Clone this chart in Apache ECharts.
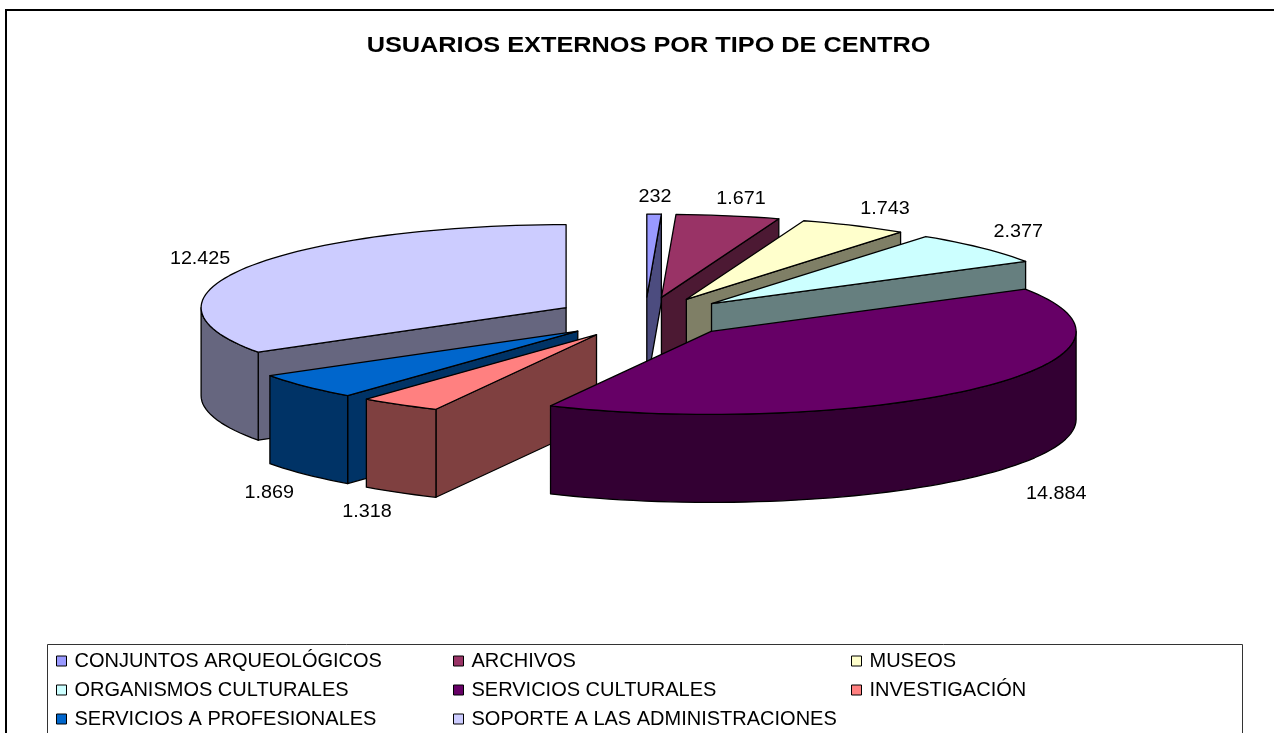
<!DOCTYPE html>
<html>
<head>
<meta charset="utf-8">
<style>
  html, body { margin: 0; padding: 0; background: #fff; overflow: hidden; }
  #chart { width: 1274px; height: 733px; }
</style>
<script src="https://cdn.jsdelivr.net/npm/echarts@6/dist/echarts.min.js"></script>
</head>
<body>
<div id="chart"></div>
<script>
// data, in pie order (clockwise from 12 o'clock)
const categories = ['CONJUNTOS ARQUEOLÓGICOS', 'ARCHIVOS', 'MUSEOS', 'ORGANISMOS CULTURALES', 'SERVICIOS CULTURALES', 'INVESTIGACIÓN', 'SERVICIOS A PROFESIONALES', 'SOPORTE A LAS ADMINISTRACIONES']
const values = [232, 1671, 1743, 2377, 14884, 1318, 1869, 12425]
const valueLabels = ['232', '1.671', '1.743', '2.377', '14.884', '1.318', '1.869', '12.425']

const topColors = ['#9999FF', '#993366', '#FFFFCC', '#CCFFFF', '#660066', '#FF8080', '#0066CC', '#CCCCFF']
const wallColors = ['#4C4C7F', '#4C1933', '#7F7F66', '#667F7F', '#330033', '#7F4040', '#003366', '#66667F']

// pie geometry
const cx = 645
const cy = 317.5
const rx = 365
const ry = 83
const depth = 88
const explode = 90
const yScale = ry / rx

// nudge of each value label away from the slice rim
const labelNudge = [[1, -17], [13, -17], [31, -16], [37, -16], [77, 18], [-33, 20], [-36, 19], [-46, -9]]
// back to front
const drawOrder = [7, 6, 5, 0, 1, 2, 3, 4]

const total = values.reduce((a, b) => a + b, 0)
const startAngles = values.map((v, i) => values.slice(0, i).reduce((a, b) => a + b, 0) / total * Math.PI * 2)

function rim (c, angle) {
  return [c[0] + rx * Math.sin(angle), c[1] - ry * Math.cos(angle)]
}

function arcPoints (c, a0, a1) {
  const steps = Math.max(2, Math.ceil((a1 - a0) / (Math.PI / 90)))
  const pts = []
  for (let i = 0; i <= steps; i++) {
    pts.push(rim(c, a0 + (a1 - a0) * i / steps))
  }
  return pts
}

function down (p) {
  return [p[0], p[1] + depth]
}

function face (points, fill) {
  return {
    type: 'polygon',
    shape: { points },
    style: { fill, stroke: '#000', lineWidth: 1.3, lineJoin: 'round' }
  }
}

function renderSlice (i, api) {
  const a0 = startAngles[i]
  const a1 = a0 + api.value(0) / total * Math.PI * 2
  const mid = (a0 + a1) / 2
  const c = [cx + explode * Math.sin(mid), cy - explode * yScale * Math.cos(mid)]
  const children = []
  // radial walls, only the ones turned to the viewer
  if (Math.sin(a0) < 0) {
    const p = rim(c, a0)
    children.push(face([c, p, down(p), down(c)], wallColors[i]))
  }
  if (Math.sin(a1) > 0) {
    const p = rim(c, a1)
    children.push(face([c, p, down(p), down(c)], wallColors[i]))
  }
  // outer wall, front half of the ellipse
  const w0 = Math.max(a0, Math.PI / 2)
  const w1 = Math.min(a1, Math.PI * 3 / 2)
  if (w1 > w0) {
    const arc = arcPoints(c, w0, w1)
    children.push(face(arc.concat(arc.map(down).reverse()), wallColors[i]))
  }
  // top
  children.push(face([c].concat(arcPoints(c, a0, a1)), topColors[i]))
  // value label
  const anchor = rim(c, mid)
  const bottom = Math.cos(mid) < 0 ? depth : 0
  children.push({
    type: 'text',
    x: anchor[0] + labelNudge[i][0],
    y: anchor[1] + bottom + labelNudge[i][1],
    scaleX: 1.13,
    style: {
      text: valueLabels[i],
      fill: '#000',
      font: '17.5px "Liberation Sans"',
      align: 'center',
      verticalAlign: 'middle'
    }
  })
  return { type: 'group', children }
}

const series = drawOrder.map(i => ({
  type: 'custom',
  name: categories[i],
  coordinateSystem: 'none',
  silent: true,
  animation: false,
  itemStyle: { color: topColors[i] },
  data: [[values[i]]],
  renderItem: (params, api) => renderSlice(i, api)
}))

function legendColumn (left, names) {
  return {
    left,
    top: 651,
    orient: 'vertical',
    padding: 0,
    icon: 'rect',
    itemWidth: 10,
    itemHeight: 10,
    itemGap: 9,
    selectedMode: false,
    itemStyle: { borderColor: '#000', borderWidth: 1 },
    textStyle: { color: '#000', fontFamily: 'Liberation Sans', fontSize: 20, padding: [0, 0, 0, 3], lineHeight: 18 },
    data: names
  }
}

const chart = echarts.init(document.getElementById('chart'))
chart.setOption({
  backgroundColor: '#fff',
  animation: false,
  legend: [
    legendColumn(56, [categories[0], categories[3], categories[6]]),
    legendColumn(453, [categories[1], categories[4], categories[7]]),
    legendColumn(851, [categories[2], categories[5]])
  ],
  graphic: [
    { type: 'line', shape: { x1: 6, y1: 10, x2: 6, y2: 733 }, style: { stroke: '#000', lineWidth: 2 } },
    { type: 'line', shape: { x1: 5, y1: 10, x2: 1274, y2: 10 }, style: { stroke: '#000', lineWidth: 2 } },
    { type: 'rect', shape: { x: 47.5, y: 644.5, width: 1195, height: 100 }, style: { fill: 'none', stroke: '#333', lineWidth: 1 } },
    {
      type: 'text',
      x: 648.5,
      y: 46,
      scaleX: 1.15,
      style: {
        text: 'USUARIOS EXTERNOS POR TIPO DE CENTRO',
        fill: '#000',
        font: 'bold 22px "Liberation Sans"',
        align: 'center',
        verticalAlign: 'middle'
      }
    }
  ],
  series
})
</script>
</body>
</html>
